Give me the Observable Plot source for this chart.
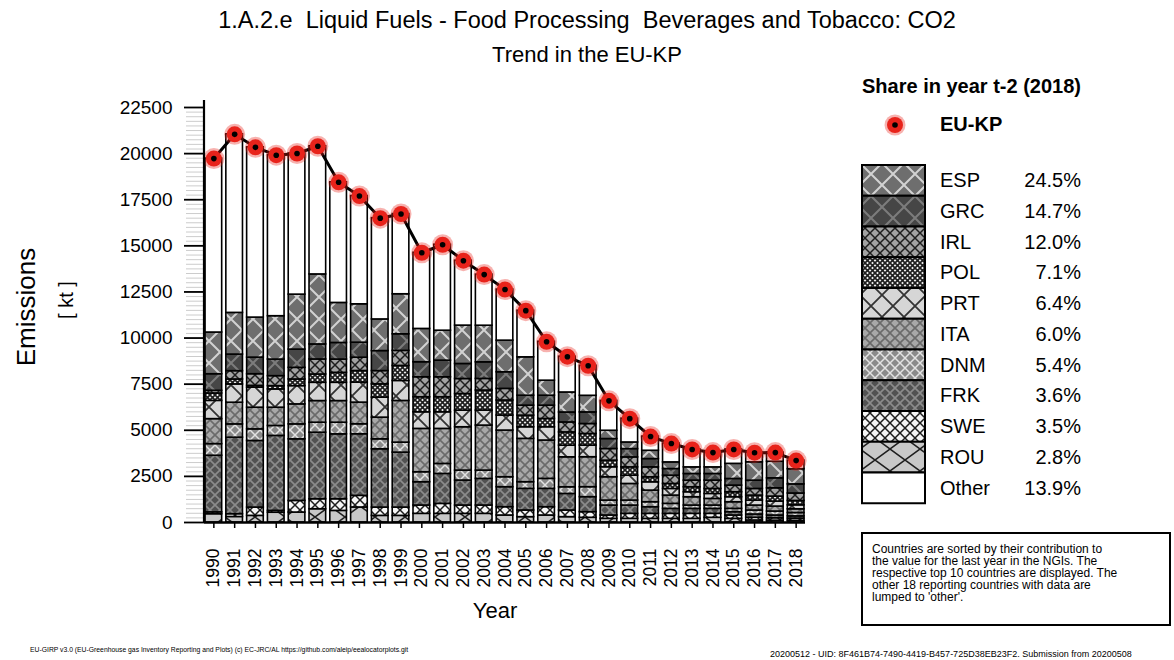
<!DOCTYPE html>
<html><head><meta charset="utf-8">
<script src="https://cdn.jsdelivr.net/npm/d3@7"></script>
<script src="https://cdn.jsdelivr.net/npm/@observablehq/plot@0.6"></script>
<style>
body{margin:0;background:#fff;font-family:"Liberation Sans",Arial,sans-serif;color:#000;}
#wrap{position:relative;width:1174px;height:660px;overflow:hidden;}
#chart{position:absolute;left:0;top:0;}
.abs{position:absolute;white-space:nowrap;}
</style></head><body>
<svg width="0" height="0" style="position:absolute"><defs id="pdefs"></defs></svg>
<div id="wrap">
  <div id="chart"></div>
  <div class="abs" style="left:0;width:1174px;text-align:center;top:7px;font-size:23.5px;">1.A.2.e&nbsp; Liquid Fuels - Food Processing&nbsp; Beverages and Tobacco: CO2</div>
  <div class="abs" style="left:0;width:1174px;text-align:center;top:42px;font-size:22px;">Trend in the EU-KP</div>
  <div class="abs" style="left:26px;top:307px;font-size:26px;transform:translate(-50%,-50%) rotate(-90deg);">Emissions</div>
  <div class="abs" style="left:66px;top:300px;font-size:20px;transform:translate(-50%,-50%) rotate(-90deg);">[ kt ]</div>
  <div class="abs" style="left:495px;top:598px;font-size:22px;transform:translateX(-50%);">Year</div>
  <div class="abs" style="left:862px;top:75px;font-size:20px;font-weight:bold;">Share in year t-2 (2018)</div>
  <div class="abs" style="left:940px;top:113px;font-size:20px;font-weight:bold;">EU-KP</div>
  <svg class="abs" style="left:880px;top:110px;" width="30" height="30"><circle cx="15" cy="15" r="10.5" fill="#e8231b" opacity="0.35"/><circle cx="15" cy="15" r="8" fill="#e8231b"/><circle cx="15" cy="15" r="2.8" fill="#000"/></svg>
  <div id="legend"></div>
  <div class="abs" style="left:861px;top:532px;width:306px;height:90px;border:2px solid #000;"></div>
  <div class="abs" style="left:872px;top:543px;font-size:12px;line-height:12px;">Countries are sorted by their contribution to<br>the value for the last year in the NGIs. The<br>respective top 10 countries are displayed. The<br>other 18 reporting countries with data are<br>lumped to 'other'.</div>
  <div class="abs" style="left:30px;top:646px;font-size:6.8px;">EU-GIRP v3.0 (EU-Greenhouse gas Inventory Reporting and Plots) (c) EC-JRC/AL https://github.com/aleip/eealocatorplots.git</div>
  <div class="abs" style="left:770px;top:649px;font-size:9px;">20200512 - UID: 8F461B74-7490-4419-B457-725D38EB23F2. Submission from 20200508</div>
</div>
<script>
// ---- data ----
const years = ["1990","1991","1992","1993","1994","1995","1996","1997","1998","1999","2000","2001","2002","2003","2004","2005","2006","2007","2008","2009","2010","2011","2012","2013","2014","2015","2016","2017","2018"];
const ESP = [2260,2260,2170,2350,2980,3795,2170,2080,1715,2170,1805,1625,2080,1985,1715,2080,815,1085,900,450,360,450,360,360,360,820,995,900,823];
const GRC = [900,900,900,900,990,815,900,815,1085,900,815,900,815,900,900,540,540,540,630,540,450,450,360,360,360,360,450,540,494];
const IRL = [145,450,630,540,630,815,720,720,720,815,1085,1085,815,630,630,540,720,540,540,630,540,540,450,360,450,360,360,450,403];
const POL = [400,270,100,180,360,450,540,630,720,815,815,815,900,1085,815,630,450,720,630,360,450,270,270,270,270,270,270,270,239];
const PRT = [990,990,1085,990,990,990,990,1085,1085,1085,900,900,900,815,815,630,720,630,630,540,450,450,360,270,270,270,270,270,215];
const ITA = [1355,1175,1175,990,1085,1175,1175,1175,1175,2260,2350,1900,2350,2440,2530,2350,2080,1625,1625,1265,900,630,450,450,360,360,270,270,202];
const DNM = [630,720,630,540,810,540,630,540,540,540,540,540,540,450,540,360,540,360,540,270,270,270,270,180,180,180,215,215,181];
const FRK = [3070,4150,3610,4065,3340,3610,3520,3340,3160,2980,1265,1625,1355,1445,1085,1175,995,900,815,540,450,360,270,270,270,180,180,150,121];
const SWE = [100,150,450,100,630,540,630,630,450,450,450,540,450,450,450,360,450,360,305,180,270,270,270,270,215,180,145,130,118];
const ROU = [450,300,360,530,540,720,630,815,360,360,470,470,470,470,380,290,380,290,255,200,200,200,200,200,255,200,110,100,94];
const Other = [9430,9680,9230,8730,7650,6950,6540,5870,5490,4350,4130,4660,3520,2770,2770,2530,2110,1940,1630,1620,1290,770,1020,970,800,780,520,495,467];
const stackOrder = ["ROU","SWE","FRK","DNM","ITA","PRT","POL","IRL","GRC","ESP","Other"];
const legendOrder = ["ESP","GRC","IRL","POL","PRT","ITA","DNM","FRK","SWE","ROU","Other"];
const shares = ["24.5%","14.7%","12.0%","7.1%","6.4%","6.0%","5.4%","3.6%","3.5%","2.8%","13.9%"];
const yTicks = [0,2500,5000,7500,10000,12500,15000,17500,20000,22500];

const series = {ESP,GRC,IRL,POL,PRT,ITA,DNM,FRK,SWE,ROU,Other};
const rows = [];
for (const c of stackOrder) years.forEach((y,i) => rows.push({year:y, country:c, value:series[c][i]}));
const totals = years.map((y,i) => ({year:y, total:d3.sum(stackOrder, c => series[c][i])}));

// ---- patterns (styles) ----
const patStyle = {
  ESP:{w:22,h:22,bg:"#6e6e6e",fg:"#d2d2d2",sw:2},
  GRC:{w:22,h:22,bg:"#464646",fg:"#7c7c7c",sw:2},
  IRL:{w:10,h:10,bg:"#a2a2a2",fg:"#1e1e1e",sw:1.5},
  POL:{w:5,h:5,bg:"#f2f2f2",fg:"#1e1e1e",sw:1.7},
  PRT:{w:22,h:22,bg:"#d6d6d6",fg:"#333333",sw:1.8},
  ITA:{w:10,h:10,bg:"#a8a8a8",fg:"#6a6a6a",sw:1.6},
  DNM:{w:10,h:10,bg:"#8a8a8a",fg:"#e2e2e2",sw:1.5},
  FRK:{w:10,h:10,bg:"#525252",fg:"#8c8c8c",sw:1.6},
  SWE:{w:10,h:10,bg:"#f6f6f6",fg:"#1e1e1e",sw:1.5},
  ROU:{w:30,h:22,bg:"#c8c8c8",fg:"#1e1e1e",sw:1.5},
  Other:{w:10,h:10,bg:"#ffffff",fg:"#ffffff",sw:0}
};
const defs = d3.select("#pdefs");
for (const [k,p] of Object.entries(patStyle)) {
  const pat = defs.append("pattern").attr("id","pat-"+k).attr("patternUnits","userSpaceOnUse").attr("width",p.w).attr("height",p.h);
  pat.append("rect").attr("width",p.w).attr("height",p.h).attr("fill",p.bg);
  if (p.sw) pat.append("path").attr("d",`M0,0L${p.w},${p.h}M${p.w},0L0,${p.h}`).attr("stroke",p.fg).attr("stroke-width",p.sw).attr("fill","none");
}

// ---- chart ----
const chart = Plot.plot({
  width:1174, height:660,
  marginLeft:204, marginRight:369, marginTop:107, marginBottom:138,
  style:{fontFamily:'"Liberation Sans",Arial,sans-serif', background:"transparent", color:"#000"},
  x:{type:"band", domain:years, paddingInner:0.2, paddingOuter:0.05, round:false, label:null},
  y:{domain:[0,22500], label:null},
  color:{type:"ordinal", domain:stackOrder, range:stackOrder.map(c => `url(#pat-${c})`)},
  marks:[
    Plot.axisY({ticks:d3.range(0,22501,250), tickSize:18, stroke:"#cccccc", strokeWidth:1, tickFormat:() => "", label:null}),
    Plot.axisY({ticks:yTicks, tickSize:20, tickPadding:12, fontSize:19, strokeWidth:1.8, tickFormat:d3.format("d"), label:null}),
    Plot.axisX({tickSize:6, tickPadding:20, tickRotate:-90, fontSize:17.5, strokeWidth:1.5, label:null}),
    Plot.barY(rows, {x:"year", y:"value", fill:"country", order:stackOrder, stroke:"#000", strokeWidth:1.6}),
    Plot.ruleY([0], {strokeWidth:2.5}),
    Plot.line(totals, {x:"year", y:"total", stroke:"#000", strokeWidth:3}),
    Plot.dot(totals, {x:"year", y:"total", r:10.5, fill:"#e8231b", fillOpacity:0.35}),
    Plot.dot(totals, {x:"year", y:"total", r:8, fill:"#e8231b"}),
    Plot.dot(totals, {x:"year", y:"total", r:2.8, fill:"#000"})
  ]
});
document.getElementById("chart").appendChild(chart);
// left axis line
const ys = chart.scale("y");
d3.select(chart).append("line").attr("x1",204).attr("x2",204).attr("y1",ys.apply(0)+1).attr("y2",ys.apply(22500)-7).attr("stroke","#000").attr("stroke-width",2.2);

// ---- legend ----
const lg = d3.select("#legend");
const rowH = 30.75;
const lsvg = lg.append("svg").attr("class","abs").style("left","860px").style("top","163px").attr("width",68).attr("height",345);
legendOrder.forEach((c,i) => {
  lsvg.append("rect").attr("x",2).attr("y",2+i*rowH).attr("width",63).attr("height",rowH).attr("fill",`url(#pat-${c})`).attr("stroke","#000").attr("stroke-width",2);
  lg.append("div").attr("class","abs").style("left","940px").style("top",(165+i*rowH+4)+"px").style("font-size","20px").text(c);
  lg.append("div").attr("class","abs").style("left","981px").style("width","100px").style("text-align","right").style("top",(165+i*rowH+4)+"px").style("font-size","20px").text(shares[i]);
});
</script>
</body></html>
